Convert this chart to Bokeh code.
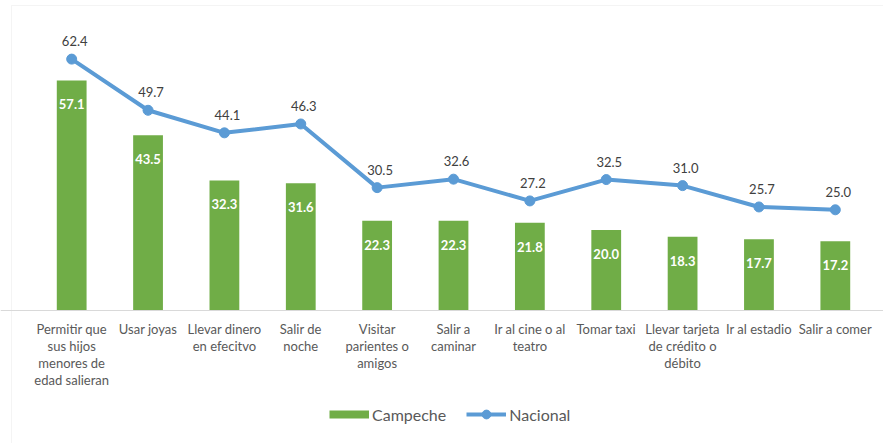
from bokeh.plotting import figure
from bokeh.models import ColumnDataSource, Range1d, Legend, LegendItem, Span, BoxAnnotation
from bokeh.core.properties import value
from bokeh.embed import file_html
from bokeh.resources import INLINE

categories = [
    "Permitir que\nsus hijos\nmenores de\nedad salieran",
    "Usar joyas",
    "Llevar dinero\nen efecitvo",
    "Salir de\nnoche",
    "Visitar\nparientes o\namigos",
    "Salir a\ncaminar",
    "Ir al cine o al\nteatro",
    "Tomar taxi",
    "Llevar tarjeta\nde crédito o\ndébito",
    "Ir al estadio",
    "Salir a comer",
]
campeche = [57.1, 43.5, 32.3, 31.6, 22.3, 22.3, 21.8, 20.0, 18.3, 17.7, 17.2]
nacional = [62.4, 49.7, 44.1, 46.3, 30.5, 32.6, 27.2, 32.5, 31.0, 25.7, 25.0]

n = len(categories)
src = ColumnDataSource(dict(
    idx=list(range(n)),
    label=categories,
    zero=[0] * n,
    campeche=campeche,
    nacional=nacional,
    campeche_txt=[f"{v:.1f}" for v in campeche],
    nacional_txt=[f"{v:.1f}" for v in nacional],
))

FONT = "Lato"
GREEN = "#70AD47"
BLUE = "#5B9BD5"

W, H = 883, 443
# layout in pixels
plot_left, plot_right, baseline, px_per_unit = 33, 873, 310, 282 / 70
px_per_cat = (plot_right - plot_left) / n
x0 = -0.5 - plot_left / px_per_cat
x1 = n - 0.5 + (W - plot_right) / px_per_cat
y1 = baseline / px_per_unit
y0 = -(H - baseline) / px_per_unit

p = figure(width=W, height=H, x_range=Range1d(x0, x1), y_range=Range1d(y0, y1),
           output_backend="svg", toolbar_location=None,
           min_border_left=0, min_border_right=0, min_border_top=0, min_border_bottom=0)
p.outline_line_color = None
p.background_fill_color = "white"
p.border_fill_color = "white"
p.grid.visible = False
p.xaxis.visible = False
p.yaxis.visible = False

# chart-area frame (top and left edges visible)
p.add_layout(BoxAnnotation(left=x0 + 11 / px_per_cat, top=y1 - 5 / px_per_unit,
                           right=x1 + 1, bottom=y0 - 10,
                           fill_color=None, fill_alpha=0,
                           line_color="#d9d9d9", line_width=1))

# category axis line
p.add_layout(Span(location=0, dimension="width", line_color="#d9d9d9", line_width=1))

bars = p.vbar(x="idx", top="campeche", width=0.39, source=src,
              fill_color=GREEN, line_color=None)
line = p.line(x="idx", y="nacional", source=src, line_color=BLUE, line_width=4)
pts = p.scatter(x="idx", y="nacional", source=src, size=10, fill_color=BLUE, line_color=BLUE)

# legend swatch for the bar series (flat bar-coloured band; draws nothing in the plot)
nan = float("nan")
bar_swatch = p.line(x=[nan], y=[nan], line_color=GREEN, line_width=8, line_cap="butt")

p.text(x="idx", y="campeche", text="campeche_txt", source=src, y_offset=24,
       text_align="center", text_baseline="middle", text_color="white",
       text_font=value(FONT), text_font_style="bold", text_font_size="13px")
p.text(x="idx", y="nacional", text="nacional_txt", source=src, y_offset=-18, x_offset=3,
       text_align="center", text_baseline="middle", text_color="#404040",
       text_font=value(FONT), text_font_size="13px")
p.text(x="idx", y="zero", text="label", source=src, y_offset=10,
       text_align="center", text_baseline="top", text_color="#595959",
       text_font=value(FONT), text_font_size="13px", text_line_height=1.07)

legend = Legend(items=[LegendItem(label="Campeche", renderers=[bar_swatch]),
                       LegendItem(label="Nacional", renderers=[line, pts])],
                orientation="horizontal", location=(329, 18),
                label_text_font=FONT, label_text_font_size="16px",
                label_text_color="#595959", glyph_width=40, glyph_height=22,
                label_height=22, spacing=20, border_line_color=None,
                background_fill_alpha=0, margin=0, padding=4, label_standoff=3)
p.add_layout(legend, "center")

open("out.html", "w").write(file_html(p, INLINE))
